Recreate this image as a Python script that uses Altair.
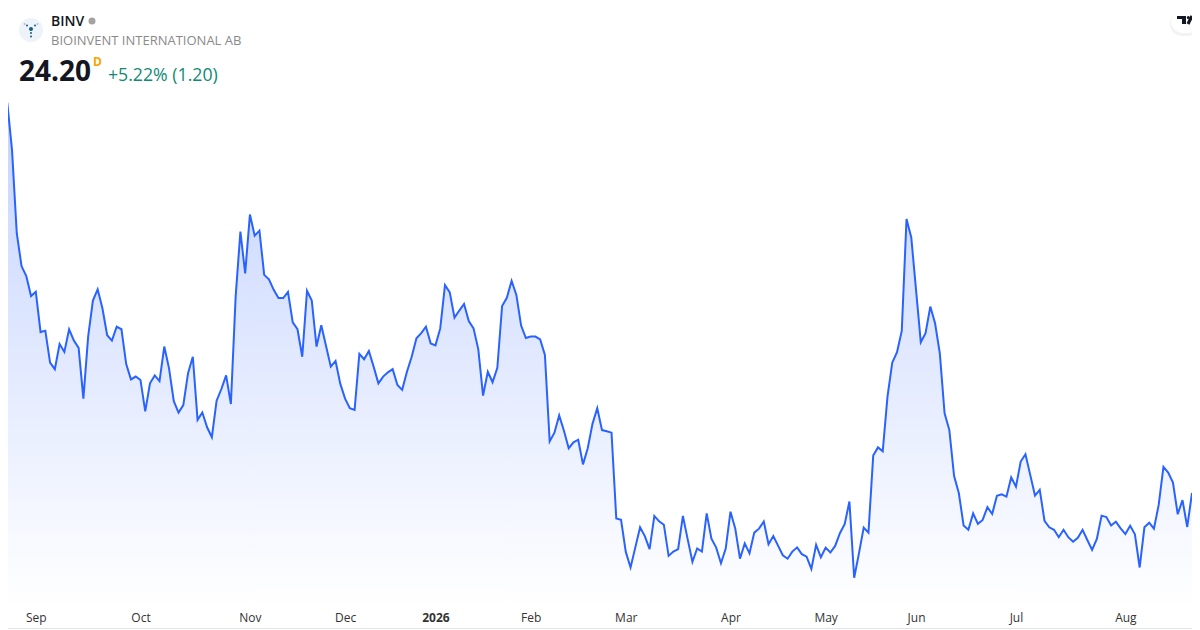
import altair as alt
import pandas as pd

prices_a = [37.04,37.98,36.31,33.37,32.21,31.86,31.15,31.30,29.88,29.93,28.80,28.57,29.46,29.18,29.98,29.58,29.32,27.53,29.72,30.99,
31.39,30.72,29.77,29.58,30.07,29.98,28.75,28.21,28.31,28.19,27.08,28.07,28.35,28.15,29.37,28.60,27.44,27.04,27.30,28.43,
29.01,26.78,27.04,26.52,26.17,27.46,27.87,28.35,27.34,31.13,33.43,31.95,34.03,33.28,33.46,31.90,31.74,31.37,31.08,31.08,
31.30,30.22,29.98,29.01,31.34,30.99,29.37,30.12,29.39,28.66,28.86,28.05,27.53,27.19,27.13,29.11,28.92,29.21,28.66,28.07,
28.31,28.46,28.57,28.01]
prices_b = [27.84,28.48,29.01,29.66,29.84,30.07,29.48,29.41,30.01,31.54,31.28,30.39,30.64,30.87,30.27,30.01,29.27,27.64,28.48,28.11,
28.62,30.80,31.09,31.69,31.19,30.11,29.67,29.72,29.72,29.62,29.07,26.02,26.33,26.94,26.40,25.78,25.99,26.08,25.21,25.78,
26.64,27.19,26.42,26.38,26.33,23.30,23.25,22.12,21.57,22.28,22.99,22.68,22.22,23.39,23.20,23.08,21.98,22.13,22.22,23.39,
22.57,21.77,22.24,22.13,23.48,22.59,22.27,21.72,22.24,23.54,22.95,21.88,22.42,22.07,22.80,22.94,23.19,22.39,22.68,22.34,
22.00,21.88,22.13,22.28]
prices_c = [22.04,21.95,21.52,22.37,21.93,22.27,22.10,22.33,22.78,23.10,23.90,21.21,22.07,22.98,22.80,25.52,25.81,25.67,27.60,28.80,
29.17,29.92,33.87,33.22,31.37,29.52,29.84,30.78,30.19,29.13,27.01,26.42,24.80,24.19,23.05,22.90,23.48,23.11,23.25,23.70,
23.46,24.10,24.15,24.07,24.75,24.42,25.31,25.57,24.84,24.11,24.31,23.22,22.99,22.90,22.64,22.90,22.64,22.48,22.62,22.90,
22.54,22.19,22.58,23.40,23.35,23.05,23.19,22.95,22.75,23.04,22.74,21.57,22.99,23.15,22.94,23.78,25.12,24.92,24.57,23.45,
23.95,23.00,24.20]
prices = prices_a + prices_b + prices_c
days = list(range(len(prices)))

tick_days = [7,29,52,72,91,111,131,153,173,192,213,236]
tick_labels = ["Sep","Oct","Nov","Dec","2026","Feb","Mar","Apr","May","Jun","Jul","Aug"]
symbol = "BINV"
company = "BIOINVENT INTERNATIONAL AB"
last_price = "24.20"
change_text = "+5.22% (1.20)"
interval = "D"

FONT = "Open Sans"
W, H = 1184, 600
OX, OY = 8, 8  # page margin

df = pd.DataFrame({"day": days, "price": prices})
x_scale = alt.Scale(domain=[1.156, 250.0], range=[0, W], nice=False, zero=False)
y_scale = alt.Scale(domain=[20.14, 41.32], range=[H, 0], nice=False, zero=False)

label_expr = "[" + ",".join(f"'{t}'" for t in tick_labels) + "][indexof([" + ",".join(map(str, tick_days)) + "],datum.value)]"
x_axis = alt.Axis(values=tick_days, labelExpr=label_expr, domain=False, ticks=False, grid=False, title=None,
                  labelFont=FONT, labelFontSize=12, labelColor="#333333", labelPadding=4,
                  labelFlush=False, labelOverlap=False, labelAngle=0,
                  labelFontWeight={"condition": {"test": "datum.value === 91", "value": "bold"}, "value": "normal"})

gradient = alt.Gradient(gradient="linear", x1=0, x2=0, y1=0, y2=1,
                        stops=[alt.GradientStop(color="#c4d3ff", offset=0),
                               alt.GradientStop(color="#ffffff", offset=1)])

area = alt.Chart(df).mark_area(color=gradient, interpolate="linear").encode(
    x=alt.X("day:Q", scale=x_scale, axis=x_axis),
    y=alt.Y("price:Q", scale=y_scale, axis=None, stack=None),
    y2=alt.value(H))
line = alt.Chart(df).mark_line(color="#2962ff", strokeWidth=2, interpolate="linear").encode(
    x=alt.X("day:Q", scale=x_scale, axis=x_axis),
    y=alt.Y("price:Q", scale=y_scale, axis=None))


def text(px, py, s, size, color, weight="normal", align="left"):
    return alt.Chart(pd.DataFrame({"t": [s]})).mark_text(
        font=FONT, fontSize=size, color=color, fontWeight=weight, align=align, baseline="alphabetic"
    ).encode(x=alt.value(px - OX), y=alt.value(py - OY), text="t:N")


def dot(px, py, r, color):
    return alt.Chart(pd.DataFrame({"t": [0]})).mark_point(
        shape="circle", filled=True, opacity=1, strokeWidth=0, size=(2 * r) ** 2, color=color
    ).encode(x=alt.value(px - OX), y=alt.value(py - OY))


def box(x1, x2, y1, y2, color, radius=0, opacity=1):
    return alt.Chart(pd.DataFrame({"t": [0]})).mark_rect(
        color=color, cornerRadius=radius, opacity=opacity
    ).encode(x=alt.value(x1 - OX), x2=alt.value(x2 - OX), y=alt.value(y1 - OY), y2=alt.value(y2 - OY))


def stroke(x1, x2, y1, y2, color, width):
    return alt.Chart(pd.DataFrame({"t": [0]})).mark_rule(color=color, strokeWidth=width).encode(
        x=alt.value(x1 - OX), x2=alt.value(x2 - OX), y=alt.value(y1 - OY), y2=alt.value(y2 - OY))


chart = alt.layer(
    area, line,
    dot(31, 30, 12, "#eef2f9"),
    dot(31, 29, 2, "#0f5f86"),
    dot(31, 33, 1, "#0f5f86"),
    dot(31, 36.5, 1, "#0f5f86"),
    dot(27, 25.5, 1, "#0f5f86"),
    dot(35, 25.5, 1, "#0f5f86"),
    dot(24.5, 24, 0.8, "#7fa8bf"),
    dot(37.5, 24, 0.8, "#7fa8bf"),
    text(51, 26, symbol, 14, "#131722", 600),
    dot(92, 21, 3.5, "#a3a3a3"),
    text(51, 45, company, 13, "#8a8a8a"),
    text(19, 81, last_price, 28, "#131722", "bold"),
    text(93, 66, interval, 12, "#f7a400", "bold"),
    text(108, 81, change_text, 17.7, "#0f8a74"),
    box(1170, 1200, 11, 36, "#dddddd", 12, 0.35),
    box(1171, 1200, 9, 33, "#ffffff", 12),
    box(1177, 1186, 16, 19, "#131722"),
    box(1182, 1186, 19, 24, "#131722"),
    dot(1188.3, 17.5, 1.5, "#131722"),
    stroke(1192, 1188, 16, 24, "#131722", 3.2),
    box(8, 1192, 628, 629, "#e0e3eb"),
).properties(
    width=W, height=H,
    autosize=alt.AutoSizeParams(type="none"),
    padding={"left": 0, "top": 0, "right": 0, "bottom": 22},
    background="#ffffff",
).configure_view(stroke=None)

chart.save("out.html", embed_options={"renderer": "svg", "actions": False})
